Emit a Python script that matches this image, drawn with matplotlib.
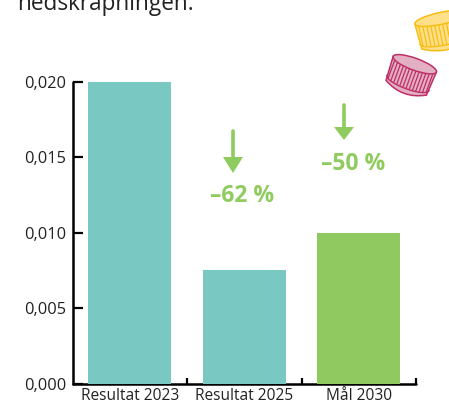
import numpy as np
import matplotlib
matplotlib.use("Agg")
import matplotlib.pyplot as plt
from matplotlib.patches import Polygon, Ellipse, PathPatch
from matplotlib.path import Path
from matplotlib.transforms import Affine2D

categories = ["Resultat 2023", "Resultat 2025", "Mål 2030"]
values = [0.020, 0.0075, 0.010]
bar_colors = ["#7AC8C2", "#7AC8C2", "#8FC95F"]
ytick_values = [0.0, 0.005, 0.010, 0.015, 0.020]
ytick_labels = ["0,000", "0,005", "0,010", "0,015", "0,020"]
GREEN = "#8FCB5E"
W, H = 449, 403

plt.rcParams["font.family"] = ["Open Sans", "DejaVu Sans"]
fig = plt.figure(figsize=(W / 100, H / 100), dpi=100, facecolor="white")
ax = fig.add_axes([72.5 / W, (H - 383.5) / H, (416 - 72.5) / W, 301.5 / H])

x = np.arange(len(categories))
ax.bar(x, values, width=0.725, color=bar_colors, zorder=3)
ax.set_xlim(-0.5, 2.5)
ax.set_ylim(0, 0.020)
ax.set_xticks(x, categories, fontsize=11.2, color="#222222")
ax.set_xticks([0.5, 1.5, 2.5], minor=True)
ax.tick_params(axis="x", which="major", length=0, pad=3.2)
ax.tick_params(axis="x", which="minor", direction="in", length=4, width=1.6, color="black")
ax.set_yticks(ytick_values, ytick_labels, fontsize=11.8, color="#222222")
ax.tick_params(axis="y", direction="in", length=7, width=1.6, pad=4.5, color="black")
for s in ["top", "right"]:
    ax.spines[s].set_visible(False)
for s in ["left", "bottom"]:
    ax.spines[s].set_linewidth(1.8)
    ax.spines[s].set_capstyle("round")

# pixel-space overlay for annotations and decorations
ov = fig.add_axes([0, 0, 1, 1], facecolor="none")
ov.set_xlim(0, W)
ov.set_ylim(H, 0)
ov.axis("off")


def arrow(cx, y0, yh, y1):
    ov.plot([cx, cx], [y0, yh + 1], color=GREEN, lw=2.6, solid_capstyle="round")
    ov.add_patch(Polygon([(cx - 10, yh), (cx + 10, yh), (cx, y1)], color=GREEN, lw=0))


arrow(233, 131, 157, 173)
arrow(344, 105, 127, 140)
ov.text(242.5, 196.5, "–62 %", color=GREEN, fontsize=16.5, fontweight="bold", ha="center", va="center")
ov.text(353.5, 164.5, "–50 %", color=GREEN, fontsize=16.5, fontweight="bold", ha="center", va="center")

ov.text(17, 10, "nedskrapningen.", color="#222222", fontsize=16.3, ha="left", va="baseline")


def cap(cx, cy, angle, w, h, edge, light, mid):
    tr = Affine2D().rotate_deg(angle).translate(cx, cy) + ov.transData
    ry = 6.0
    top_y = -h / 2 + ry
    bot_y = h / 2 - ry
    body = Path(
        [(-w / 2, top_y), (-w / 2 + 1.5, bot_y), (0, bot_y + 2 * ry), (w / 2 - 1.5, bot_y), (w / 2, top_y), (-w / 2, top_y)],
        [Path.MOVETO, Path.LINETO, Path.CURVE3, Path.CURVE3, Path.LINETO, Path.CLOSEPOLY],
    )
    ov.add_patch(PathPatch(body, fc=mid, ec=edge, lw=1.1, transform=tr))
    ov.add_patch(Ellipse((0, top_y), w, 2 * ry, fc=light, ec=edge, lw=1.1, transform=tr))
    band = bot_y - 5
    for t in np.linspace(-0.44, 0.44, 13):
        px = t * w
        arc = ry * np.sqrt(max(0, 1 - (2 * t) ** 2))
        ov.plot([px, px], [top_y + arc + 1, band + arc - 1], color=edge, lw=0.9, transform=tr)
    s = np.linspace(-1, 1, 31)
    ov.plot(s * (w / 2 - 0.5), band + ry * np.sqrt(1 - s ** 2), color=edge, lw=1.0, transform=tr)


cap(444, 31, -12, 54, 38, "#F7BE12", "#FFE08A", "#FFE08A")
cap(410.5, 76, 20, 46, 37, "#BE2E68", "#E3AFC2", "#E3AFC2")

fig.savefig("out.png", dpi=100, facecolor="white")
